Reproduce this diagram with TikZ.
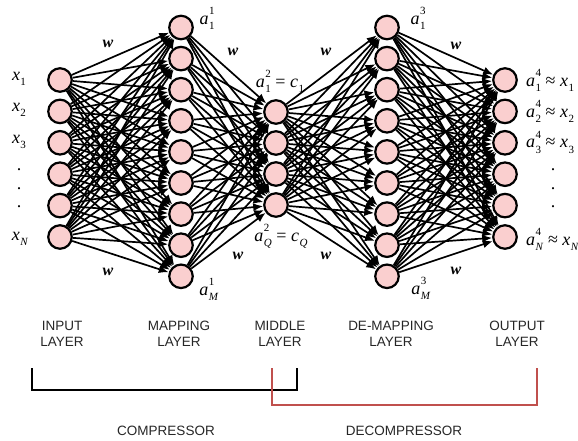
\documentclass[tikz,border=0pt]{standalone}
\usepackage{fontspec}
\setmainfont{Liberation Serif}
\newfontfamily\labelfont{Liberation Sans}
\usetikzlibrary{arrows.meta}
\definecolor{cellpink}{RGB}{250,207,207}
\definecolor{bracketred}{RGB}{192,80,77}
% small script size for indices
\newcommand\idxfont{\fontsize{11}{11}\selectfont}
% italic symbol with a superscript and a subscript stacked
\newcommand\supsub[3]{\textit{#1}\kern0.5pt\rlap{\raisebox{0.55em}{\idxfont #2}}\raisebox{-0.28em}{\idxfont #3}}
% italic symbol with a subscript only
\newcommand\subonly[2]{\textit{#1}\kern0.5pt\raisebox{-0.28em}{\idxfont #2}}
\newcommand\wgt{\textbf{\textit{w}}}

\begin{document}
\begin{tikzpicture}[x=1pt,y=-1pt,
  neuron/.style={circle,draw=black,line width=2.2pt,fill=cellpink,minimum size=23.5pt,inner sep=0pt},
  syn/.style={line width=1.7pt,-{Latex[length=10pt,width=8pt]}},
  mathlbl/.style={font=\fontsize{18}{19}\selectfont,inner sep=0pt},
  wlbl/.style={font=\fontsize{16}{17}\selectfont,inner sep=0pt},
  caption/.style={font=\labelfont\fontsize{13.5}{16.5}\selectfont,text=black!85,align=center,inner sep=0pt},
  bracket/.style={line width=1.6pt},
]
\useasboundingbox (0,0) rectangle (578,441);

% layers of units
\foreach \k in {1,...,6} \node[neuron] (i\k) at (60,{80+31.4*(\k-1)}) {};
\foreach \k in {1,...,9} \node[neuron] (m\k) at (181,{27.5+31.1*(\k-1)}) {};
\foreach \k in {1,...,4} \node[neuron] (c\k) at (276,{112+31*(\k-1)}) {};
\foreach \k in {1,...,9} \node[neuron] (d\k) at (387,{27.5+31.1*(\k-1)}) {};
\foreach \k in {1,...,6} \node[neuron] (o\k) at (505,{80+31.4*(\k-1)}) {};

% fully connected weights between adjacent layers
\foreach \a in {1,...,6} \foreach \b in {1,...,9} \draw[syn] (i\a) -- (m\b);
\foreach \a in {1,...,9} \foreach \b in {1,...,4} \draw[syn] (m\a) -- (c\b);
\foreach \a in {1,...,4} \foreach \b in {1,...,9} \draw[syn] (c\a) -- (d\b);
\foreach \a in {1,...,9} \foreach \b in {1,...,6} \draw[syn] (d\a) -- (o\b);

% input labels
\node[mathlbl] (lx1) at (19,79) {\subonly{x}{1}};
\node[mathlbl] (lx2) at (19,110) {\subonly{x}{2}};
\node[mathlbl] (lx3) at (19,142) {\subonly{x}{3}};
\node[mathlbl] (lxd1) at (19,170) {.};
\node[mathlbl] (lxd2) at (19,189) {.};
\node[mathlbl] (lxd3) at (19,207) {.};
\node[mathlbl] (lxN) at (20,239) {\subonly{x}{\textit{N}}};

% output labels
\node[mathlbl,anchor=west] (lo1) at (526,80) {\supsub{a}{4}{1} ≈ \subonly{x}{1}};
\node[mathlbl,anchor=west] (lo2) at (526,111) {\supsub{a}{4}{2} ≈ \subonly{x}{2}};
\node[mathlbl,anchor=west] (lo3) at (526,142) {\supsub{a}{4}{3} ≈ \subonly{x}{3}};
\node[mathlbl] (lod1) at (553,170) {.};
\node[mathlbl] (lod2) at (553,189) {.};
\node[mathlbl] (lod3) at (553,207) {.};
\node[mathlbl,anchor=west] (loN) at (526,239) {\supsub{a}{4}{\textit{N}} ≈ \subonly{x}{\textit{N}}};

% hidden layer labels
\node[mathlbl] (lm1) at (207,18) {\supsub{a}{1}{1}};
\node[mathlbl] (lmM) at (209,289) {\supsub{a}{1}{\textit{M}}};
\node[mathlbl] (lc1) at (280,81) {\supsub{a}{2}{1} = \subonly{c}{1}};
\node[mathlbl] (lcQ) at (281,236) {\supsub{a}{2}{\textit{Q}} = \subonly{c}{\textit{Q}}};
\node[mathlbl] (ld1) at (418,18) {\supsub{a}{3}{1}};
\node[mathlbl] (ldM) at (421,288) {\supsub{a}{3}{\textit{M}}};

% weight labels
\node[wlbl] (w1) at (108,44) {\wgt};
\node[wlbl] (w2) at (108,272) {\wgt};
\node[wlbl] (w3) at (233,52) {\wgt};
\node[wlbl] (w4) at (238,256) {\wgt};
\node[wlbl] (w5) at (326,52) {\wgt};
\node[wlbl] (w6) at (326,256) {\wgt};
\node[wlbl] (w7) at (456,46) {\wgt};
\node[wlbl] (w8) at (456,271) {\wgt};

% layer captions
\node[caption] (capIn) at (62,334) {INPUT\\LAYER};
\node[caption] (capMap) at (179,334) {MAPPING\\LAYER};
\node[caption] (capMid) at (280,334) {MIDDLE\\LAYER};
\node[caption] (capDe) at (391,334) {DE-MAPPING\\LAYER};
\node[caption] (capOut) at (517,334) {OUTPUT\\LAYER};

% compressor bracket with soft shadow
\coordinate (bA) at (32,368);
\coordinate (bB) at (32,390);
\coordinate (bC) at (297,390);
\coordinate (bD) at (297,368);
\draw[bracket,black!22,line width=2.4pt,shift={(1.2,1.4)}] (bA) -- (bB) -- (bC) -- (bD);
\draw[bracket] (bA) -- (bB) -- (bC) -- (bD);

% decompressor bracket
\coordinate (rA) at (272,368);
\coordinate (rB) at (272,405);
\coordinate (rC) at (537,405);
\coordinate (rD) at (537,368);
\draw[bracket,bracketred] (rA) -- (rB) -- (rC) -- (rD);

\node[caption] (capComp) at (166,431) {COMPRESSOR};
\node[caption] (capDecomp) at (404,431) {DECOMPRESSOR};
\end{tikzpicture}
\end{document}
